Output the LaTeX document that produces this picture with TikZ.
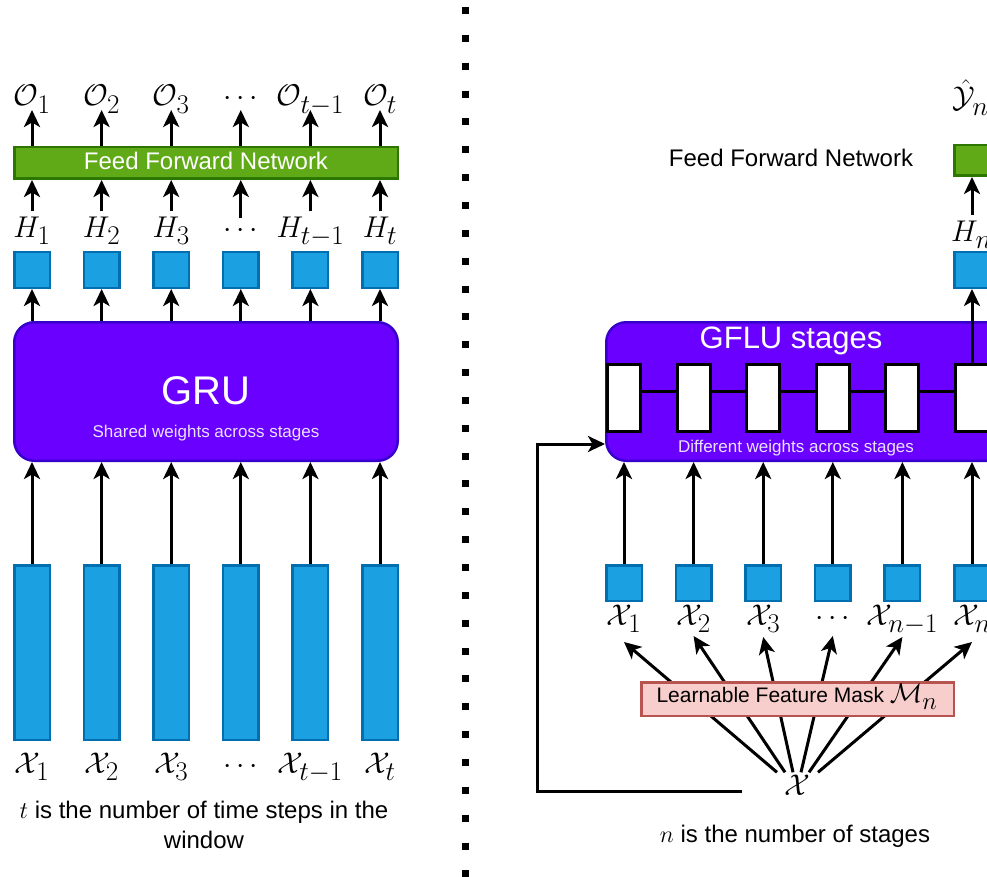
\RequirePackage{fix-cm}
\documentclass[tikz,border=0pt]{standalone}
\usepackage{fontspec}
\setmainfont{Liberation Sans}
\usetikzlibrary{arrows.meta,calc}
\DeclareMathSizes{27}{27}{25}{20}
\DeclareMathSizes{30}{30}{27}{21}
\definecolor{bfill}{HTML}{1BA1E2}
\definecolor{bline}{HTML}{006EAF}
\definecolor{pfill}{HTML}{6A00FF}
\definecolor{pline}{HTML}{3700CC}
\definecolor{gfill}{HTML}{60A917}
\definecolor{gline}{HTML}{2D7600}
\definecolor{rfill}{HTML}{F8CECC}
\definecolor{rline}{HTML}{B85450}
\definecolor{lav}{HTML}{EBE1FF}
\newcommand{\fsz}[1]{\fontsize{#1}{#1}\selectfont}
\newcommand{\lsub}[1]{_{\lower3pt\hbox{$\scriptstyle#1$}}}
\begin{document}
\begin{tikzpicture}[x=1pt,y=-1pt,
  arr/.style={line width=3pt,-{Stealth[length=17pt,width=16pt,inset=4.5pt]}},
  bluebox/.style={draw=bline,fill=bfill,line width=2.5pt,inner sep=0pt},
  sq/.style={bluebox,minimum width=35.5pt,minimum height=35.5pt},
  bar/.style={bluebox,minimum width=35.5pt,minimum height=174.5pt},
  purplebox/.style={draw=pline,fill=pfill,line width=2.5pt,rounded corners=20pt,inner sep=0pt},
  greenbox/.style={draw=gline,fill=gfill,line width=2.5pt,inner sep=0pt},
  whitebox/.style={draw=black,fill=white,line width=3pt,minimum width=33pt,minimum height=67pt,inner sep=0pt},
  lbl/.style={font=\fsz{30},inner sep=1pt,anchor=base},
  txt/.style={font=\fsz{24},inner sep=0pt,anchor=base}]
\useasboundingbox (0,0) rectangle (987,877);
\clip (0,0) rectangle (987,877);

% separator
\draw[line width=7pt,dash pattern=on 7pt off 20.85pt] (465.5,7) -- (465.5,877);

% ---------------- left panel ----------------
\node[purplebox,minimum width=383.5pt,minimum height=138.5pt] (gru) at (206,391.5) {};
\node[font=\fsz{40},text=white,anchor=base,inner sep=0pt] (grut) at (206,404) {GRU};
\node[font=\fsz{17},text=lav,anchor=base,inner sep=0pt] (grus) at (206,437) {Shared weights across stages};
\node[greenbox,minimum width=383.5pt,minimum height=31.5pt] (ffn) at (206,163) {};
\node[txt,text=white] (ffnt) at (206,170) {Feed Forward Network};

\foreach \i/\x/\o/\h/\X in {1/32/\mathcal{O}\lsub{1}/H\lsub{1}/\mathcal{X}\lsub{1},
                            2/101.6/\mathcal{O}\lsub{2}/H\lsub{2}/\mathcal{X}\lsub{2},
                            3/171.2/\mathcal{O}\lsub{3}/H\lsub{3}/\mathcal{X}\lsub{3},
                            4/240.8/\cdots/\cdots/\cdots,
                            5/310.4/\mathcal{O}\lsub{t-1}/H\lsub{t-1}/\mathcal{X}\lsub{t-1},
                            6/380/\mathcal{O}\lsub{t}/H\lsub{t}/\mathcal{X}\lsub{t}}{
  \node[bar] (b\i) at (\x,652.5) {};
  \node[lbl] (xl\i) at (\x,773) {$\X$};
  \node[sq] (h\i) at (\x,270) {};
  \node[lbl] (hl\i) at (\x,237) {$\h$};
  \node[lbl] (ol\i) at (\x,106) {$\o$};
  \draw[arr] (b\i.north) -- (b\i.north |- gru.south);
  \draw[arr] (h\i |- gru.north) -- (h\i.south);
  \draw[arr] ([yshift=4pt]h\i |- hl\i.north) -- (h\i |- ffn.south);
  \draw[arr] (h\i |- ffn.north) -- ([yshift=-4pt]h\i |- ol\i.base);
}
\node[txt] (tnote) at (204,818) {$t$ is the number of time steps in the};
\node[txt] (tnote2) at (204,848) {window};

% ---------------- right panel ----------------
\node[purplebox,minimum width=402.5pt,minimum height=138.5pt] (gflu) at (807.5,391.5) {};
\node[font=\fsz{31},text=white,anchor=base,inner sep=0pt] (gflut) at (791,348) {GFLU stages};
\node[font=\fsz{17},text=lav,anchor=base,inner sep=0pt] (gflus) at (796,452) {Different weights across stages};

\foreach \i/\x/\X in {1/624/\mathcal{X}\lsub{1},2/693.6/\mathcal{X}\lsub{2},3/763.2/\mathcal{X}\lsub{3},
                      4/832.8/\cdots,5/902.4/\mathcal{X}\lsub{n-1},6/972/\mathcal{X}\lsub{n}}{
  \node[whitebox] (s\i) at (\x,398) {};
  \node[sq] (x\i) at (\x,583) {};
  \node[lbl] (rl\i) at (\x,625) {$\X$};
  \draw[arr] (x\i.north) -- (x\i.north |- gflu.south);
}
\foreach \i [evaluate=\i as \j using int(\i+1)] in {1,...,5}{
  \draw[line width=3pt] ([yshift=7pt]s\i.east) -- ([yshift=7pt]s\j.west);
}

\node[sq] (hn) at (972,270) {};
\node[lbl,anchor=base west] (hnl) at (950,241) {$H\lsub{n}$};
\node[greenbox,minimum width=35.5pt,minimum height=30.5pt] (g) at (972,160.5) {};
\node[lbl,anchor=base west] (yl) at (951,108) {$\hat{\mathcal{Y}}\lsub{n}$};
\node[txt] (ffnr) at (791,167) {Feed Forward Network};
\draw[arr] (s6.north) -- (hn.south);
\draw[arr] ([yshift=4pt]hn |- hnl.north) -- (hn |- g.south);

% mask and fan
\node[lbl,inner sep=2pt] (xc) at (797,795) {$\mathcal{X}$};
\foreach \i/\dx/\dy in {1/-20/17,2/-12/11,3/-4/12,4/4/11,5/12/12,6/21/17}{
  \draw[arr] ($(xc.north)+(\dx,0)$) -- ($(rl\i.base)+(0,\dy)$);
}
\node[draw=rline,fill=rfill,line width=2.5pt,minimum width=312.5pt,minimum height=33.5pt,inner sep=0pt] (mask) at (797.5,699) {};
\node[anchor=base,inner sep=0pt] (maskt) at (797,702) {\fsz{21}Learnable Feature Mask \fsz{27}$\mathcal{M}\lsub{n}$};

\draw[arr] ($(xc.base west)+(-40,-4)$) -| ($(gflu.south west)+(-68,-18)$) -- ([yshift=18pt]gflu.south west);

\node[txt] (nnote) at (795,842) {$n$ is the number of stages};
\end{tikzpicture}
\end{document}
